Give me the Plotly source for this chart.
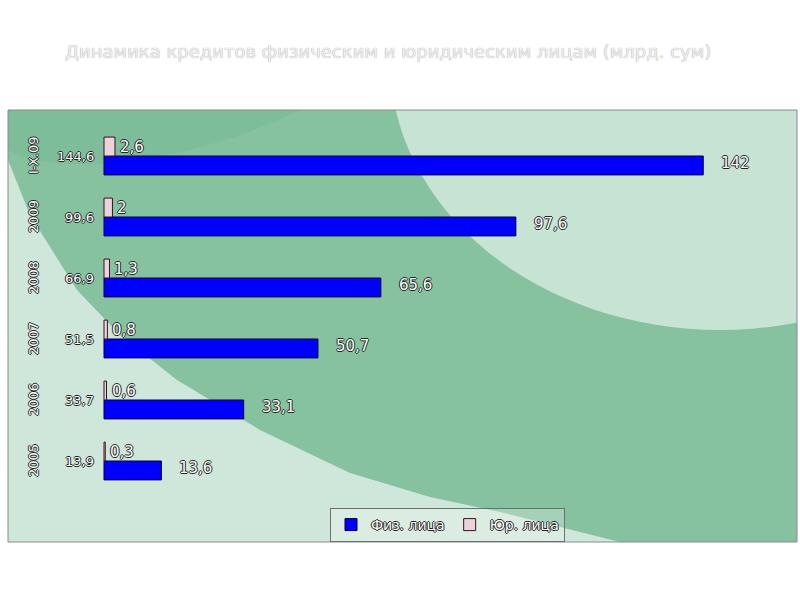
import plotly.graph_objects as go

# ---- data ----
categories = ["2005", "2006", "2007", "2008", "2009", "I-X.09"]
fiz = [13.6, 33.1, 50.7, 65.6, 97.6, 142]
yur = [0.3, 0.6, 0.8, 1.3, 2, 2.6]
totals = [13.9, 33.7, 51.5, 66.9, 99.6, 144.6]
series_names = ["Физ. лица", "Юр. лица"]
title_text = "Динамика кредитов физическим и юридическим лицам (млрд. сум)"


def fmt(v):
    s = ("%g" % v)
    return s.replace(".", ",")


OUTLINE = "1px 0px 0px #222, -1px 0px 0px #222, 0px 1px 0px #222, 0px -1px 0px #222"

# pixel -> data helpers (for background decoration only)
X0PX, XSCALE = 104.0, 4.22
Y0PX, YSCALE = 461.0, 61.0


def dx(px):
    return (px - X0PX) / XSCALE


def dy(py):
    return (Y0PX - py) / YSCALE


fig = go.Figure()
fig.add_trace(go.Bar(
    y=categories, x=fiz, orientation="h", name=series_names[0],
    marker=dict(color="#0000ff", line=dict(color="#000033", width=1)),
))
fig.add_trace(go.Bar(
    y=categories, x=yur, orientation="h", name=series_names[1],
    marker=dict(color="#ead3dc", line=dict(color="#3a1020", width=1)),
))

annotations = []
off = 0.155
for i, c in enumerate(categories):
    annotations.append(dict(x=fiz[i], y=i - off, xref="x", yref="y", text=fmt(fiz[i]),
                            showarrow=False, xanchor="left", xshift=16, yshift=2,
                            font=dict(size=15, color="#ffffff", family="DejaVu Sans", shadow=OUTLINE)))
    annotations.append(dict(x=yur[i], y=i + off, xref="x", yref="y", text=fmt(yur[i]),
                            showarrow=False, xanchor="left", xshift=3,
                            font=dict(size=15, color="#ffffff", family="DejaVu Sans", shadow=OUTLINE)))
    annotations.append(dict(x=dx(96), y=i, xref="x", yref="y", text=fmt(totals[i]),
                            showarrow=False, xanchor="right",
                            font=dict(size=13, color="#ffffff", family="DejaVu Sans", shadow=OUTLINE)))
    annotations.append(dict(x=dx(33), y=i, xref="x", yref="y", text=c, textangle=-90,
                            showarrow=False, xanchor="center",
                            font=dict(size=13, color="#ffffff", family="DejaVu Sans", shadow=OUTLINE)))

# title (above plot area)
annotations.append(dict(x=(388 - 8) / 789.0, y=1 + (110 - 52) / 432.0, xref="paper", yref="paper",
                        yanchor="middle", xanchor="center", text=title_text, showarrow=False,
                        font=dict(size=18, color="#efefef", family="DejaVu Sans",
                                  shadow="0px 0px 1px #8a8a8a")))

boundary = [(8, 160), (30, 215), (77, 290), (120, 335), (177, 380), (260, 430),
            (350, 473), (430, 497), (500, 512), (620, 542)]
ll_path = "M " + " L ".join("%f,%f" % (dx(px), dy(py)) for px, py in boundary)
ll_path += " L %f,%f Z" % (dx(8), dy(542))

shapes = [
    dict(type="rect", xref="x", yref="y", x0=dx(8), x1=dx(797), y0=dy(542), y1=dy(110),
         fillcolor="#86c2a0", line=dict(width=0), layer="below"),
    dict(type="circle", xref="x", yref="y", x0=dx(720 - 330), x1=dx(720 + 330),
         y0=dy(60 + 270), y1=dy(60 - 270), fillcolor="#c6e3d3", line=dict(width=0), layer="below"),
    dict(type="path", xref="x", yref="y", layer="below", fillcolor="#cfe7da", line=dict(width=0),
         path=ll_path),
    dict(type="path", xref="x", yref="y", layer="below", fillcolor="rgba(110,180,140,0.35)",
         line=dict(width=0),
         path="M %f,%f L %f,%f C %f,%f %f,%f %f,%f Z" % (
             dx(8), dy(110), dx(300), dy(110), dx(200), dy(160), dx(60), dy(180), dx(8), dy(150))),
    dict(type="rect", xref="paper", yref="paper", x0=0, x1=1, y0=0, y1=1,
         line=dict(color="#8a8a8a", width=1), fillcolor="rgba(0,0,0,0)"),
]

fig.update_layout(
    width=800, height=600,
    margin=dict(l=8, r=3, t=110, b=58),
    paper_bgcolor="#ffffff", plot_bgcolor="#cfe7da",
    barmode="group", bargap=0.38, bargroupgap=0.0,
    showlegend=True,
    legend=dict(orientation="h", x=(330 - 8) / 789.0, y=(542 - 508) / 432.0,
                xanchor="left", yanchor="top",
                bgcolor="rgba(255,255,255,0.25)", bordercolor="#6f6f6f", borderwidth=1,
                font=dict(size=14, color="#ffffff", family="DejaVu Sans", shadow=OUTLINE),
                itemwidth=30, traceorder="normal"),
    xaxis=dict(range=[dx(8), dx(797)], visible=False, showgrid=False, zeroline=False),
    yaxis=dict(type="category", categoryorder="array", categoryarray=categories,
               range=[dy(542), dy(110)], visible=False, showgrid=False),
    annotations=annotations,
    shapes=shapes,
)

fig.write_html("out.html")
